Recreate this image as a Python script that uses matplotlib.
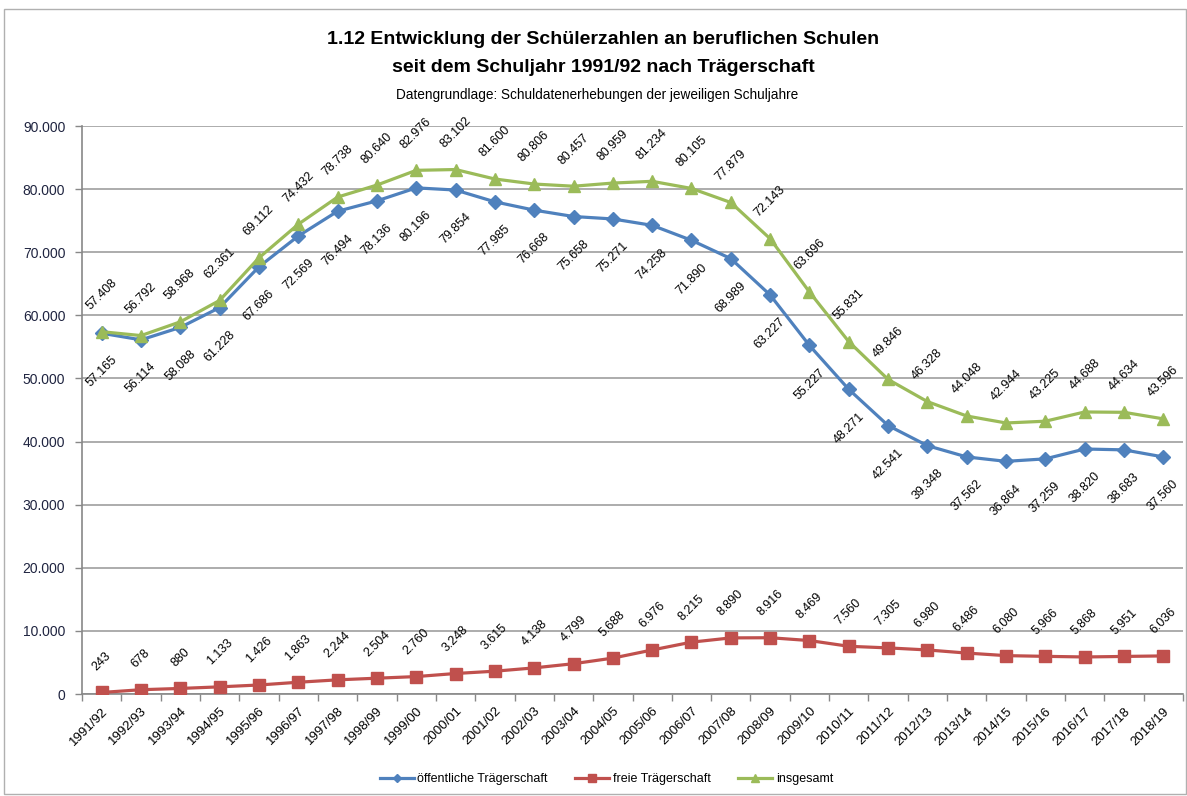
import numpy as np
import matplotlib.pyplot as plt
from matplotlib.patches import Rectangle
from matplotlib.ticker import FuncFormatter

# --- DATA ---
schuljahre = ["1991/92", "1992/93", "1993/94", "1994/95", "1995/96", "1996/97", "1997/98",
              "1998/99", "1999/00", "2000/01", "2001/02", "2002/03", "2003/04", "2004/05",
              "2005/06", "2006/07", "2007/08", "2008/09", "2009/10", "2010/11", "2011/12",
              "2012/13", "2013/14", "2014/15", "2015/16", "2016/17", "2017/18", "2018/19"]

oeffentlich = [57165, 56114, 58088, 61228, 67686, 72569, 76494, 78136, 80196, 79854,
               77985, 76668, 75658, 75271, 74258, 71890, 68989, 63227, 55227, 48271,
               42541, 39348, 37562, 36864, 37259, 38820, 38683, 37560]
frei = [243, 678, 880, 1133, 1426, 1863, 2244, 2504, 2760, 3248, 3615, 4138, 4799, 5688,
        6976, 8215, 8890, 8916, 8469, 7560, 7305, 6980, 6486, 6080, 5966, 5868, 5951, 6036]
insgesamt = [57408, 56792, 58968, 62361, 69112, 74432, 78738, 80640, 82976, 83102,
             81600, 80806, 80457, 80959, 81234, 80105, 77879, 72143, 63696, 55831,
             49846, 46328, 44048, 42944, 43225, 44688, 44634, 43596]

FONT = ['Liberation Sans Narrow', 'Liberation Sans', 'DejaVu Sans']
plt.rcParams['font.family'] = FONT

BLUE = '#4F81BD'
RED = '#C0504D'
GREEN = '#9BBB59'


def de_fmt(v):
    """German thousands separator."""
    return f"{int(v):,}".replace(",", ".")


fig = plt.figure(figsize=(11.87, 7.96), dpi=100)
fig.patches.append(Rectangle((4 / 1187, 0.002), 1 - 5 / 1187, 1 - 11 / 796,
                             transform=fig.transFigure, fill=False,
                             edgecolor='#B0B0B0', linewidth=1.0))

ax = fig.add_axes([82 / 1187, 1 - 694 / 796, 1101 / 1187, 568 / 796])
x = np.arange(len(schuljahre))

ax.plot(x, oeffentlich, color=BLUE, lw=2.3, marker='D', ms=7, zorder=4,
        label='öffentliche Trägerschaft')
ax.plot(x, frei, color=RED, lw=2.3, marker='s', ms=9, zorder=4,
        label='freie Trägerschaft')
ax.plot(x, insgesamt, color=GREEN, lw=2.3, marker='^', ms=9, zorder=4,
        label='insgesamt')

# data labels
for xi, v in zip(x, insgesamt):
    ax.annotate(de_fmt(v), (xi, v), xytext=(0, 14), textcoords='offset points',
                ha='center', va='bottom', rotation=45, fontsize=9)
for xi, v in zip(x, oeffentlich):
    ax.annotate(de_fmt(v), (xi, v), xytext=(0, -15), textcoords='offset points',
                ha='center', va='top', rotation=45, fontsize=9)
for xi, v in zip(x, frei):
    ax.annotate(de_fmt(v), (xi, v), xytext=(0, 14), textcoords='offset points',
                ha='center', va='bottom', rotation=45, fontsize=9)

ax.set_xlim(-0.5, len(schuljahre) - 0.5)
ax.set_ylim(0, 90000)
ax.set_yticks(np.arange(0, 90001, 10000))
ax.yaxis.set_major_formatter(FuncFormatter(lambda v, p: de_fmt(v)))
ax.set_xticks(x)
ax.set_xticklabels(schuljahre, rotation=45, ha='right', rotation_mode='anchor', fontsize=9.5)
ax.set_xticks(np.arange(-0.5, len(schuljahre), 1), minor=True)
ax.tick_params(axis='x', which='major', length=0, pad=8)
ax.tick_params(axis='x', which='minor', length=5, color='#888888', width=1)
ax.tick_params(axis='y', length=5, color='#888888', width=1, labelsize=10,
               labelcolor='#1F2440', pad=7)

ax.grid(axis='y', color='#A6A6A6', lw=1.3)
ax.set_axisbelow(True)
for side in ['top', 'right']:
    ax.spines[side].set_visible(False)
for side in ['left', 'bottom']:
    ax.spines[side].set_color('#888888')
    ax.spines[side].set_linewidth(1.2)

fig.text(0.508, 1 - 40 / 796, "1.12 Entwicklung der Schülerzahlen an beruflichen Schulen",
         ha='center', va='center', fontsize=14, fontweight='bold')
fig.text(0.508, 1 - 67 / 796, "seit dem Schuljahr 1991/92 nach Trägerschaft",
         ha='center', va='center', fontsize=14, fontweight='bold')
fig.text(0.503, 1 - 95 / 796, "Datengrundlage: Schuldatenerhebungen der jeweiligen Schuljahre",
         ha='center', va='center', fontsize=9.8)

fig.legend(loc='center', bbox_to_anchor=(0.511, 1 - 779 / 796), ncol=3, frameon=False,
           fontsize=9, handlelength=2.7, handletextpad=0.3, columnspacing=2.2,
           markerscale=0.65)

fig.savefig('out.png', dpi=100)
